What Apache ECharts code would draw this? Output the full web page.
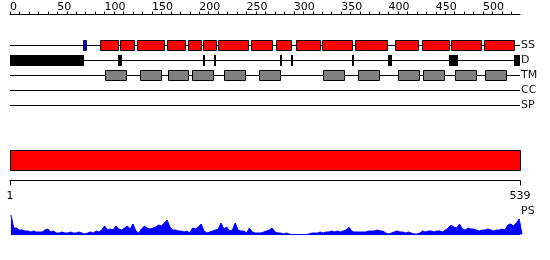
<!DOCTYPE html>
<html><head><meta charset="utf-8">
<script src="https://cdn.jsdelivr.net/npm/echarts@6/dist/echarts.min.js"></script>
<style>html,body{margin:0;padding:0;background:#fff}#c{width:550px;height:260px}</style>
</head><body><div id="c"></div>
<script>
// ---------- data ----------
const seqLength = 539;
const trackNames = ['SS', 'D', 'TM', 'CC', 'SP'];
const topTickLabels = [0, 50, 100, 150, 200, 250, 300, 350, 400, 450, 500];
const minorTickStep = 10;
const bottomTickLabels = [1, 539];
// secondary structure: helices (red) and strand (blue)
const ssHelix = [[96,115],[117,132],[135,163],[166,185],[189,202],[204,218],[220,252],[255,277],[282,297],[303,328],[330,362],[365,399],[407,432],[436,465],[467,498],[501,533]];
const ssStrand = [[78,81]];
// disordered regions
const disorder = [[0,78],[114,118],[204,206],[216,218],[285,287],[297,299],[361,364],[399,404],[464,473],[533,539]];
// transmembrane helices
const tmHelix = [[101,123],[138,160],[168,189],[193,215],[227,249],[264,286],[331,353],[368,390],[411,433],[437,459],[471,493],[503,525]];
// whole-sequence bar
const psBar = [[1, 539]];
// profile (PS), one value every 3 residues starting at residue 1
const psStart = 1, psStep = 3;
const psValues = [20,7,7,5,5,4,4,3,4,3, 3,3,5,6,3,4,2,2,3,2, 2,3,2,2,3,2,1,2,3,2,
  4,3,5,9,5,6,5,9,6,5, 7,9,6,11,4,2,6,9,7,6, 7,8,10,9,12,15,8,5,5,4,
  4,3,4,2,7,6,8,11,4,2, 3,4,5,6,12,6,8,4,5,12, 5,4,4,2,7,3,2,2,2,3,
  4,5,7,3,2,2,1,2,1,0.5, 0.5,0.5,0.5,0.5,0.5,1,2,2,2,3, 2,3,3,4,3,4,3,4,5,8,
  4,3,3,3,3,3,4,4,4,5, 4,4,2,1,2,3,4,3,3,2, 3,2,1,1,2,4,3,4,4,3,
  4,4,3,5,7,10,8,7,11,6, 5,7,6,6,5,4,5,5,6,5, 4,5,5,6,5,10,11,9,12,16, 1];

// ---------- chart ----------
const FONT = 'DejaVu Sans';
const minorTicks = [];
for (let t = 0; t <= seqLength; t += minorTickStep) minorTicks.push(t);

function boxSeries(ranges, row, fill, stroke, height, xAxisIndex, yAxisIndex) {
  return {
    type: 'custom', silent: true, clip: false,
    xAxisIndex: xAxisIndex || 0, yAxisIndex: yAxisIndex || 0,
    data: ranges.map(r => [r[0], r[1], row]),
    encode: { x: [0, 1], y: 2 },
    renderItem(params, api) {
      const p0 = api.coord([api.value(0), api.value(2)]);
      const p1 = api.coord([api.value(1), api.value(2)]);
      const yc = p0[1];
      let shape;
      if (stroke) {
        const x0 = Math.floor(p0[0]) + 0.5, x1 = Math.floor(p1[0]) + 0.5;
        shape = { x: x0, y: yc - height / 2, width: x1 - x0, height: height };
      } else {
        const x0 = Math.round(p0[0]), x1 = Math.round(p1[0]);
        shape = { x: x0, y: Math.round(yc - height / 2), width: Math.max(1, x1 - x0), height: height };
      }
      return { type: 'rect', shape, style: { fill: fill, stroke: stroke || null, lineWidth: 1 } };
    }
  };
}

const trackLines = {
  type: 'custom', silent: true, xAxisIndex: 0, yAxisIndex: 0,
  data: trackNames.map((n, i) => [0, seqLength, i]),
  encode: { x: [0, 1], y: 2 },
  renderItem(params, api) {
    const p0 = api.coord([api.value(0), api.value(2)]);
    const p1 = api.coord([api.value(1), api.value(2)]);
    return { type: 'line', shape: { x1: p0[0], y1: p0[1], x2: p1[0], y2: p1[1] }, style: { stroke: '#000', lineWidth: 1 } };
  }
};

const option = {
  animation: false,
  textStyle: { fontFamily: FONT },
  grid: [
    { left: 10, width: 510, top: 38, height: 75 },
    { left: 10, width: 510, top: 150.5, height: 20 },
    { left: 10, right: 28, top: 205, height: 30 }
  ],
  xAxis: [
    { gridIndex: 0, type: 'value', min: 0, max: seqLength, position: 'top', offset: 23.5, interval: 10,
      axisLine: { show: true, onZero: false, lineStyle: { color: '#000', width: 1 } },
      axisTick: { show: true, length: 3, customValues: minorTicks, lineStyle: { color: '#000' } },
      axisLabel: { show: true, customValues: topTickLabels, align: 'left', margin: 2, fontSize: 11, color: '#000', fontFamily: FONT,
        formatter: v => (v % 50 === 0 ? String(v) : '') },
      splitLine: { show: false } },
    { gridIndex: 1, type: 'value', min: 1, max: seqLength, position: 'bottom', offset: 10,
      axisLine: { show: true, onZero: false, lineStyle: { color: '#000', width: 1 } },
      axisTick: { show: true, length: 5, customValues: bottomTickLabels, lineStyle: { color: '#000' } },
      axisLabel: { show: true, customValues: bottomTickLabels, margin: 10, fontSize: 11, color: '#000', fontFamily: FONT },
      splitLine: { show: false } },
    { gridIndex: 2, type: 'value', min: 0, max: 541, show: false, axisLine: { onZero: false } }
  ],
  yAxis: [
    { gridIndex: 0, type: 'category', data: trackNames, inverse: true, position: 'right',
      axisLine: { show: false, onZero: false }, axisTick: { show: false }, splitLine: { show: false },
      axisLabel: { margin: 1, fontSize: 11, color: '#111', fontFamily: FONT } },
    { gridIndex: 1, type: 'category', data: ['seq'], show: false },
    { gridIndex: 2, type: 'value', min: 0, max: 30, position: 'right', offset: -2,
      axisLine: { show: false, onZero: false }, axisTick: { show: false }, axisLabel: { show: false }, splitLine: { show: false },
      name: 'PS', nameLocation: 'end', nameGap: -6,
      nameTextStyle: { align: 'left', verticalAlign: 'middle', fontSize: 11, color: '#111', fontFamily: FONT, padding: [0, 0, 0, 1] } }
  ],
  series: [
    trackLines,
    boxSeries(ssHelix, 0, '#ff0000', '#000', 10),
    boxSeries(ssStrand, 0, '#0000ff', '#000', 10),
    boxSeries(disorder, 1, '#000', null, 11),
    boxSeries(tmHelix, 2, '#808080', '#000', 10),
    boxSeries(psBar, 0, '#ff0000', '#000', 20, 1, 1),
    { type: 'line', xAxisIndex: 2, yAxisIndex: 2, silent: true, symbol: 'none', showSymbol: false,
      data: psValues.map((v, i) => [psStart + i * psStep, v]),
      lineStyle: { color: '#0000ff', width: 1 },
      areaStyle: { color: '#0000ff', opacity: 1 } }
  ]
};
const chart = echarts.init(document.getElementById('c'));
chart.setOption(option);
</script>
</body></html>
